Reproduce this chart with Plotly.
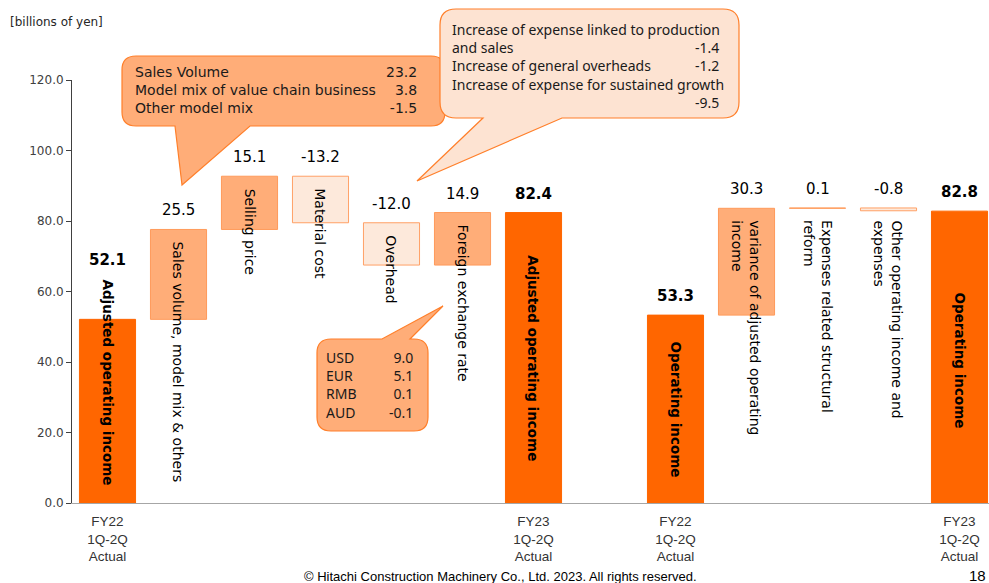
import plotly.graph_objects as go

# ---------------- data ----------------
categories = [
    "Adjusted operating income", "Sales volume, model mix & others", "Selling price",
    "Material cost", "Overhead", "Foreign exchange rate", "Adjusted operating income",
    "", "Operating income", "variance of adjusted operating<br>income",
    "Expenses related structural<br>reform", "Other operating income and<br>expenses",
    "Operating income",
]
values = [52.1, 25.5, 15.1, -13.2, -12.0, 14.9, 82.4, None, 53.3, 30.3, 0.1, -0.8, 82.8]
measures = ["total", "relative", "relative", "relative", "relative", "relative", "total",
            "none", "total", "relative", "relative", "relative", "total"]
value_text = ["52.1", "25.5", "15.1", "-13.2", "-12.0", "14.9", "82.4", "",
              "53.3", "30.3", "0.1", "-0.8", "82.8"]
tick_positions = [0, 6, 8, 12]
tick_labels = ["FY22<br>1Q-2Q<br>Actual", "FY23<br>1Q-2Q<br>Actual",
               "FY22<br>1Q-2Q<br>Actual", "FY23<br>1Q-2Q<br>Actual"]

callout1_items = ["Sales Volume", "Model mix of value chain business", "Other model mix"]
callout1_values = ["23.2", "3.8", "-1.5"]
callout2_items = ["Increase of expense linked to production", "and sales",
                  "Increase of general overheads", "Increase of expense for sustained growth"]
callout2_values = [" ", "-1.4", "-1.2", " ", "-9.5"]
callout3_items = ["USD", "EUR", "RMB", "AUD"]
callout3_values = ["9.0", "5.1", "0.1", "-0.1"]

# ---------------- layout constants ----------------
W, H = 989, 583
L, R, T, B = 72, 0, 80, 80
ORANGE = "#FF6600"
INC_FILL, INC_LINE = "#FFAD78", "#FF9A5A"
DEC_FILL, DEC_LINE = "#FDE9DB", "#FFA066"
FONT = "DejaVu Sans"
NARROW = "Liberation Sans Narrow, Arial Narrow, Liberation Sans, sans-serif"
CALL_FONT = "Noto Sans, Open Sans, sans-serif"


def PX(x):
    return (x - L) / (W - L - R)


def PY(y):
    return (H - B - y) / (H - T - B)


# compute bar bases / heights from the waterfall values
xs, bases, heights, fills, lines, tops = [], [], [], [], [], []
running = 0.0
for i, (v, m) in enumerate(zip(values, measures)):
    if m == "none":
        tops.append(None)
        continue
    if m == "total":
        base, h = 0.0, v
        running = v
        fill, line = ORANGE, ORANGE
    else:
        base, h = running, v
        running = running + v
        fill, line = (INC_FILL, INC_LINE) if v >= 0 else (DEC_FILL, DEC_LINE)
    xs.append(i)
    bases.append(base)
    heights.append(h)
    fills.append(fill)
    lines.append(line)
    tops.append(max(base, base + h))

fig = go.Figure()
fig.add_trace(go.Bar(
    x=xs, y=heights, base=bases, width=0.79,
    marker=dict(color=fills, line=dict(color=lines, width=1)),
    hoverinfo="skip", showlegend=False,
))

annotations = []
# value labels above bars
for i, (m, t) in enumerate(zip(measures, value_text)):
    if m == "none":
        continue
    bold = m == "total"
    shift = 8
    if i == 0:
        shift = 48
    annotations.append(dict(
        x=i, y=tops[i], xref="x", yref="y", text=f"<b>{t}</b>" if bold else t,
        showarrow=False, yanchor="bottom", yshift=shift,
        font=dict(family=FONT, size=15, color="#000000"),
    ))

# rotated category labels
for i, (m, c) in enumerate(zip(measures, categories)):
    if m == "none":
        continue
    if m == "total":
        txt = f"<b>{c}</b>"
        size = 13.5
        if i == 0:
            a = dict(y=0, yanchor="bottom", yshift=16)
        else:
            a = dict(y=values[i] / 2, yanchor="middle", yshift=-3 if i == 12 else 0)
    else:
        txt = c
        size = 14
        a = dict(y=tops[i], yanchor="top", yshift=-10)
    annotations.append(dict(
        x=i, xref="x", yref="y", text=txt, textangle=90, showarrow=False,
        align="left", xanchor="center",
        font=dict(family=FONT, size=size, color="#000000"), **a,
    ))


# ---------------- callouts ----------------
def callout_path(x0, y0, x1, y1, r, tail, side):
    def P(x, y):
        return f"{PX(x):.5f},{PY(y):.5f}"

    d = f"M{P(x0 + r, y0)}"
    if side == "top":
        for (tx, ty) in tail:
            d += f" L{P(tx, ty)}"
    d += f" L{P(x1 - r, y0)} Q{P(x1, y0)} {P(x1, y0 + r)}"
    d += f" L{P(x1, y1 - r)} Q{P(x1, y1)} {P(x1 - r, y1)}"
    if side == "bottom":
        for (tx, ty) in tail:
            d += f" L{P(tx, ty)}"
    d += f" L{P(x0 + r, y1)} Q{P(x0, y1)} {P(x0, y1 - r)}"
    d += f" L{P(x0, y0 + r)} Q{P(x0, y0)} {P(x0 + r, y0)} Z"
    return d


shapes = [
    dict(type="path", xref="paper", yref="paper",
         path=callout_path(122, 56, 445, 126, 14, [(250, 126), (182, 185), (175, 126)], "bottom"),
         fillcolor="#FFAD78", line=dict(color="#FF7F2A", width=1.2), layer="above"),
    dict(type="path", xref="paper", yref="paper",
         path=callout_path(440, 9, 739, 118, 16, [(562, 118), (417, 181), (483, 118)], "bottom"),
         fillcolor="#FDE3D2", line=dict(color="#FF7F2A", width=1.2), layer="above"),
    dict(type="path", xref="paper", yref="paper",
         path=callout_path(317, 339, 428, 431, 14, [(382, 339), (443, 306), (410, 339)], "top"),
         fillcolor="#FFAD78", line=dict(color="#FF7F2A", width=1.2), layer="above"),
]


def block(lines_, x, xanchor, yc, family, size):
    annotations.append(dict(x=PX(x), y=PY(yc), xref="paper", yref="paper",
                            text="<br>".join(lines_), showarrow=False,
                            xanchor=xanchor, yanchor="middle",
                            align="left" if xanchor == "left" else "right",
                            font=dict(family=family, size=size, color="#1a1a1a")))


LH = 18.2
block(callout1_items, 133, "left", 72 + LH, FONT, 14)
block(callout1_values, 419, "right", 72 + LH, FONT, 14)
block(callout2_items, 450, "left", 30 + 1.5 * LH, CALL_FONT, 14)
block(callout2_values, 721, "right", 30 + 2 * LH, CALL_FONT, 14)
block(callout3_items, 324, "left", 358 + 1.5 * LH, CALL_FONT, 14)
block(callout3_values, 415, "right", 358 + 1.5 * LH, CALL_FONT, 14)

# unit label, footer
annotations.append(dict(x=PX(8), y=PY(22), xref="paper", yref="paper", text="[billions of yen]",
                        showarrow=False, xanchor="left", yanchor="middle",
                        font=dict(family=FONT, size=12, color="#262626")))
annotations.append(dict(x=PX(500), y=PY(576), xref="paper", yref="paper",
                        text="© Hitachi Construction Machinery Co., Ltd. 2023. All rights reserved.",
                        showarrow=False, xanchor="center", yanchor="middle",
                        font=dict(family=NARROW, size=13, color="#000000")))
annotations.append(dict(x=PX(988), y=PY(575), xref="paper", yref="paper", text="18",
                        showarrow=False, xanchor="right", yanchor="middle",
                        font=dict(family=NARROW, size=15, color="#000000")))

fig.update_layout(
    width=W, height=H, margin=dict(l=L, r=R, t=T, b=B),
    paper_bgcolor="white", plot_bgcolor="white",
    shapes=shapes, annotations=annotations, showlegend=False,
    xaxis=dict(range=[-0.5, (W - L - R) / 71 - 0.5], tickmode="array",
               tickvals=tick_positions, ticktext=tick_labels, showgrid=False, zeroline=False,
               showline=True, linecolor="#A6A6A6", linewidth=1, ticks="",
               ticklabelstandoff=6,
               tickfont=dict(family=NARROW, size=13.5, color="#333333"), fixedrange=True),
    yaxis=dict(range=[0, 120], dtick=20, tickformat=".1f", showgrid=False, zeroline=False,
               showline=True, linecolor="#404040", linewidth=1, ticks="outside", ticklen=5,
               tickcolor="#404040", tickfont=dict(family=FONT, size=12, color="#404040"),
               fixedrange=True),
)

fig.write_html("out.html")
